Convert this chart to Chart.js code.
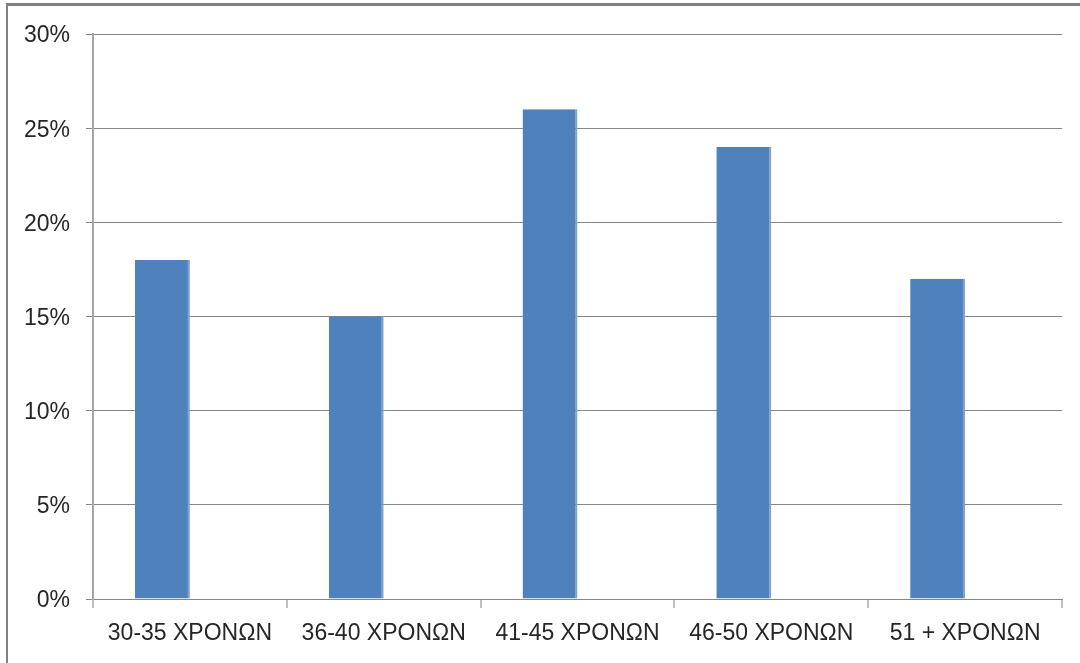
<!DOCTYPE html>
<html>
<head>
<meta charset="utf-8">
<script src="https://cdn.jsdelivr.net/npm/chart.js@4"></script>
<style>
  html, body { margin: 0; padding: 0; background: #ffffff; }
  #wrap { position: relative; width: 1080px; height: 663px; overflow: hidden; }
  #frameTop { position: absolute; left: 6px; top: 3px; width: 1074px; height: 3px; background: #808080; }
  #frameLeft { position: absolute; left: 6px; top: 3px; width: 2px; height: 660px; background: #808080; }
  canvas { position: absolute; left: 0; top: 0; }
</style>
</head>
<body>
<div id="wrap">
  <canvas id="c" width="1080" height="663"></canvas>
  <div id="frameTop"></div>
  <div id="frameLeft"></div>
</div>
<script>
// Data
const categories = ["30-35 ΧΡΟΝΩΝ", "36-40 ΧΡΟΝΩΝ", "41-45 ΧΡΟΝΩΝ", "46-50 ΧΡΟΝΩΝ", "51 + ΧΡΟΝΩΝ"];
const shares = [18, 15, 26, 24, 17];          // percent
const emptySeries = [null, null, null, null, null]; // second (empty) series as in the original
const yMin = 0;
const yMax = 30;
const yStep = 5;

const fontFamily = "'Liberation Sans', Arial, sans-serif";

new Chart(document.getElementById('c'), {
  type: 'bar',
  data: {
    labels: categories,
    datasets: [
      {
        data: shares,
        backgroundColor: '#4F81BD',
        borderColor: '#7ea3d3',
        borderWidth: { left: 0, right: 2, top: 0, bottom: 0 },
        borderSkipped: false,
        categoryPercentage: 0.567,
        barPercentage: 1.0
      },
      {
        data: emptySeries,
        backgroundColor: '#C0504D',
        categoryPercentage: 0.567,
        barPercentage: 1.0
      }
    ]
  },
  options: {
    responsive: false,
    devicePixelRatio: 1,
    animation: false,
    layout: { padding: { left: 10, right: 18, top: 34, bottom: 0 } },
    plugins: {
      legend: { display: false },
      tooltip: { enabled: false },
      title: { display: false }
    },
    scales: {
      x: {
        grid: {
          offset: true,
          drawOnChartArea: false,
          drawTicks: true,
          tickLength: 9,
          color: '#c0c0c0',
          lineWidth: 2
        },
        border: { display: true, color: '#868686', width: 1 },
        ticks: {
          color: '#262626',
          font: { family: fontFamily, size: 23 },
          padding: 12,
          maxRotation: 0,
          autoSkip: false
        },
        afterFit: (scale) => { scale.height = 64; }
      },
      y: {
        min: yMin,
        max: yMax,
        grid: {
          color: '#868686',
          lineWidth: 1,
          drawTicks: true,
          tickLength: 7
        },
        border: { display: true, color: '#a6a6a6', width: 2 },
        ticks: {
          stepSize: yStep,
          color: '#262626',
          font: { family: fontFamily, size: 23 },
          padding: 16,
          labelOffset: 2,
          callback: (v) => v + '%'
        },
        afterFit: (scale) => { scale.width = 83; }
      }
    }
  }
});
</script>
</body>
</html>
